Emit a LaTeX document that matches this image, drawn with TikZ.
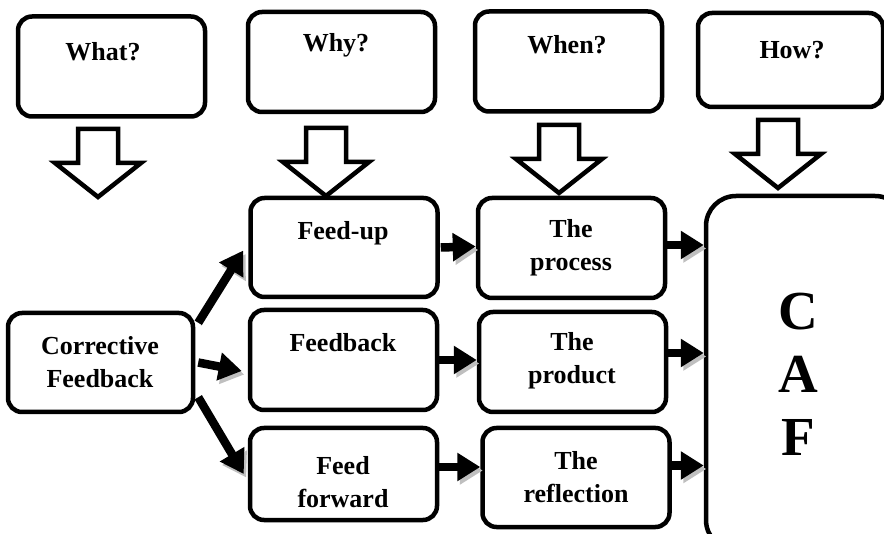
\documentclass[tikz,border=0pt]{standalone}
\usepackage{fontspec}
\setmainfont{Liberation Serif}
\usetikzlibrary{arrows.meta}
\tikzset{
  box/.style = {draw, line width=4.5pt, rounded corners=14pt, minimum width=187pt, minimum height=100pt, inner sep=0pt},
  lbl/.style = {font=\bfseries\fontsize{26}{33}\selectfont, align=center, inner sep=0pt},
  flow/.style = {line width=8.5pt, -{Triangle[length=23pt,width=27pt]},
    preaction={draw=gray!50, transform canvas={shift={(2.5pt,-3.5pt)}}}},
  hollow/.pic = {\draw[line width=4.5pt, fill=white, line join=miter]
    (-20,0) -- (20,0) -- (20,34) -- (43,34) -- (0,68) -- (-43,34) -- (-20,34) -- cycle;}
}
\begin{document}
\begin{tikzpicture}[x=1pt, y=-1pt]
    \useasboundingbox (0,0) rectangle (884,534);
    % question boxes
    \node[box] (what) at (111.5,66.5) {};
    \node[box] (why) at (341.5,62) {};
    \node[box] (when) at (568.5,61.5) {};
    \node[box, minimum width=185pt, minimum height=94pt] (how) at (790.5,60) {};
    \node[lbl] (whatlbl) at (103,52) {What?};
    \node[lbl] (whylbl) at (336,45) {Why?};
    \node[lbl] (whenlbl) at (567,45) {When?};
    \node[lbl] (howlbl) at (792,50) {How?};
    % hollow arrows
    \pic (whatarrow) at (98,129) {hollow};
    \pic (whyarrow) at (326,128) {hollow};
    \pic (whenarrow) at (559,125) {hollow};
    \pic (howarrow) at (778,120) {hollow};
    % main boxes
    \node[box, minimum width=185pt, minimum height=99pt] (corr) at (100.5,362.5) {};
    \node[box, minimum height=99pt] (feedup) at (344,247.5) {};
    \node[box] (feedback) at (343.5,360) {};
    \node[box, minimum height=92pt] (ffwd) at (343.5,474) {};
    \node[box] (process) at (571.5,248) {};
    \node[box] (product) at (572.5,362) {};
    \node[box, minimum height=99pt] (refl) at (576,477.5) {};
    \node[box, rounded corners=30pt, minimum width=199pt, minimum height=354pt] (caf) at (805.5,373) {};
    \node[lbl] (corrlbl) at (100,362) {Corrective\\Feedback};
    \node[lbl] (feeduplbl) at (343,233) {Feed-up};
    \node[lbl] (feedbacklbl) at (343,343) {Feedback};
    \node[lbl] (ffwdlbl) at (343,482) {Feed\\forward};
    \node[lbl] (processlbl) at (571,248) {The\\process};
    \node[lbl] (productlbl) at (572,361) {The\\product};
    \node[lbl] (refllbl) at (576,477) {The\\reflection};
    \node[font=\bfseries\fontsize{55}{63}\selectfont, align=center, inner sep=0pt] (caflbl) at (798,374) {C\\A\\F};
    % arrows
    \draw[flow] ([shift={(3pt,-12pt)}]corr.north east) -- ([shift={(-5pt,-3pt)}]feedup.west);
    \draw[flow] ([xshift=3pt]corr.east) -- ([shift={(-6pt,-11pt)}]feedback.west);
    \draw[flow] ([shift={(3pt,17pt)}]corr.south east) -- ([xshift=-4pt]ffwd.west);
    \draw[flow] ([xshift=1pt]feedup.east) -- ([yshift=1pt]feedup.east -| process.west);
    \draw[flow] (feedback.east) -- (feedback.east -| product.west);
    \draw[flow] ([yshift=7pt]ffwd.east) -- ([yshift=7pt]ffwd.east -| refl.west);
    \draw[flow] ([yshift=3pt]process.east) -- ([yshift=3pt]process.east -| caf.west);
    \draw[flow] ([yshift=9pt]product.east) -- ([yshift=9pt]product.east -| caf.west);
    \draw[flow] ([yshift=12pt]refl.east) -- ([yshift=12pt]refl.east -| caf.west);
\end{tikzpicture}
\end{document}
